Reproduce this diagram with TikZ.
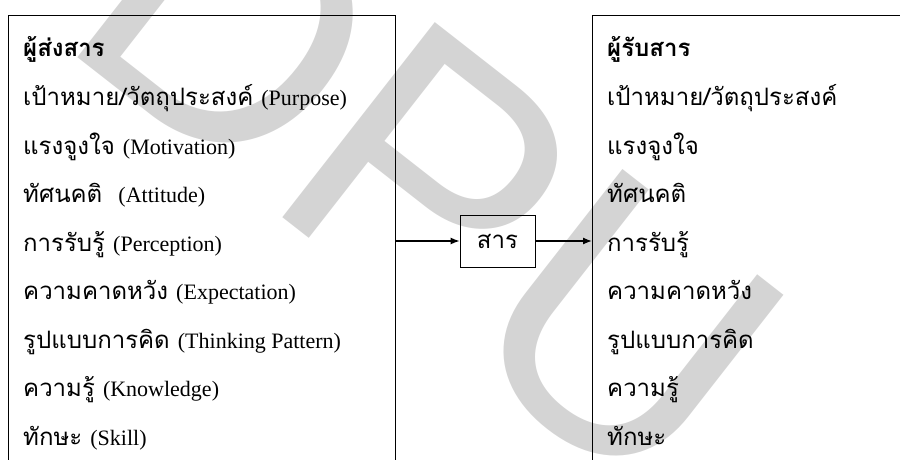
\documentclass[tikz,border=0pt]{standalone}
\usepackage{fontspec}
\setmainfont{Liberation Serif}
\newfontfamily\thaifont[Script=Thai]{Loma}
\newfontfamily\markfont{Liberation Sans}
\usetikzlibrary{arrows.meta}
\newcommand\en[1]{{\fontsize{22}{28}\selectfont\rmfamily #1}}

\begin{document}
\begin{tikzpicture}[x=1pt,y=-1pt,>={Latex[length=9pt,width=7pt]},
    panel/.style={draw,line width=0.8pt,inner sep=0pt,anchor=north west},
    item/.style={anchor=base west,inner sep=0pt,font=\fontsize{24}{28}\selectfont\thaifont},
    msgbox/.style={draw,line width=0.8pt,minimum width=75pt,minimum height=52pt,
      font=\fontsize{24}{28}\selectfont\thaifont},
    link/.style={->,line width=1.3pt},
    watermark/.style={text=black!17,rotate=-38,font=\fontsize{360}{360}\selectfont\markfont}]

  \clip (0,0) rectangle (900,460);
  \node[watermark] (mark) at (429,177) {DPU};

  % sender, message, receiver
  \node[panel,minimum width=387pt,minimum height=480pt] (sender) at (8,15) {};
  \node[panel,minimum width=340pt,minimum height=480pt] (receiver) at (592,15) {};
  \node[msgbox] (msg) at (497.5,241) {สาร};

  \foreach \txt [count=\i] in {{\bfseries ผู้ส่งสาร},
      เป้าหมาย/วัตถุประสงค์ \en{(Purpose)},
      แรงจูงใจ \en{(Motivation)},
      ทัศนคติ~ \en{(Attitude)},
      การรับรู้ \en{(Perception)},
      ความคาดหวัง \en{(Expectation)},
      รูปแบบการคิด \en{(Thinking Pattern)},
      ความรู้ \en{(Knowledge)},
      ทักษะ \en{(Skill)}}
    \node[item] (s\i) at (23,{57+48.5*(\i-1)}) {\txt};

  \foreach \txt [count=\i] in {{\bfseries ผู้รับสาร},
      เป้าหมาย/วัตถุประสงค์, แรงจูงใจ, ทัศนคติ, การรับรู้,
      ความคาดหวัง, รูปแบบการคิด, ความรู้, ทักษะ}
    \node[item] (r\i) at (607,{57+48.5*(\i-1)}) {\txt};

  \draw[link] (sender.east |- msg) -- (msg);
  \draw[link] (msg) -- (receiver.west |- msg);
\end{tikzpicture}
\end{document}
